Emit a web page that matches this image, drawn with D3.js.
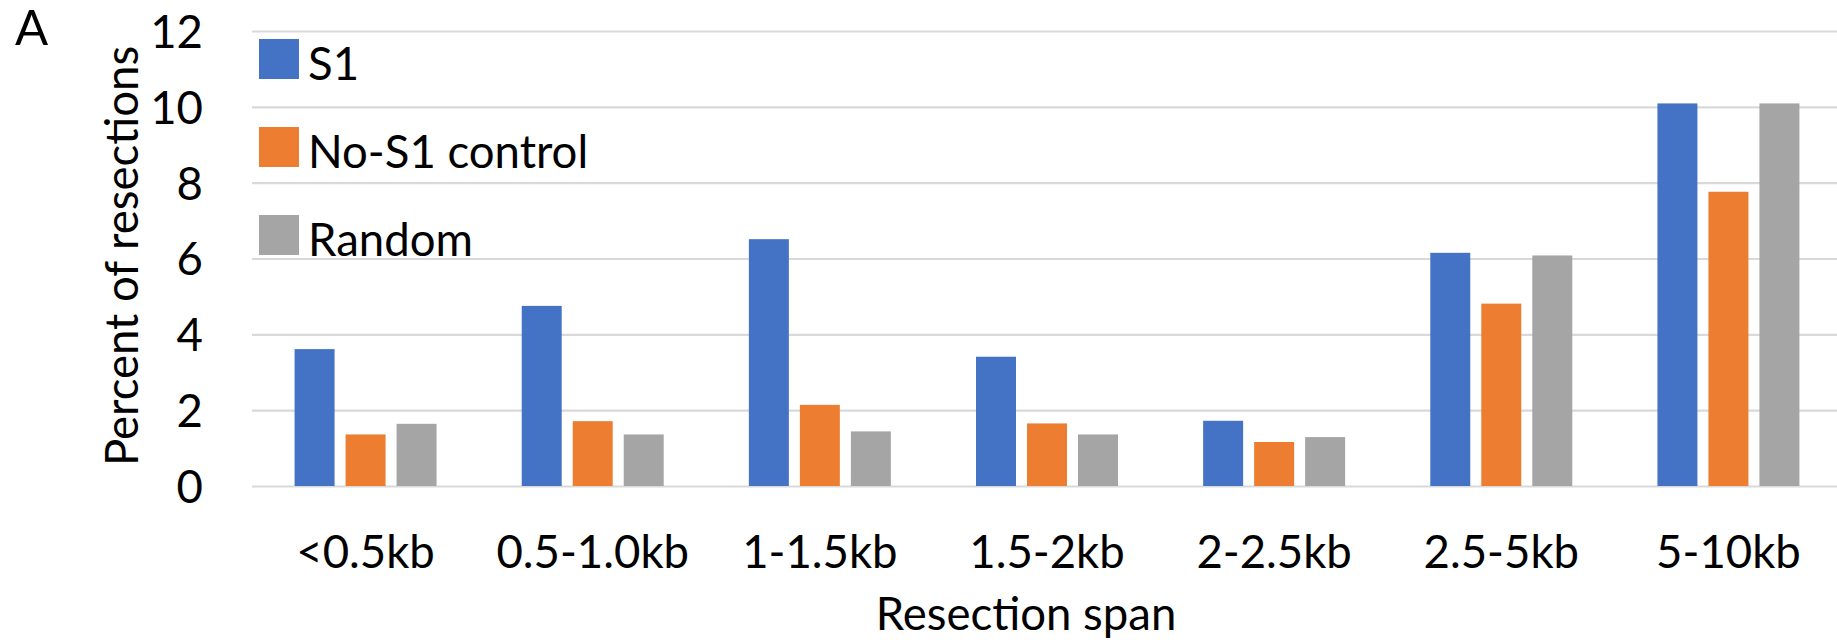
<!DOCTYPE html>
<html>
<head>
<meta charset="utf-8">
<script src="https://cdn.jsdelivr.net/npm/d3@7"></script>
<style>
	html, body { margin: 0; padding: 0; background: #fff; }
	svg { display: block; font-family: 'Lato', sans-serif; }
</style>
</head>
<body>
<div id="chart"></div>
<script>
const categories = ['<0.5kb', '0.5-1.0kb', '1-1.5kb', '1.5-2kb', '2-2.5kb', '2.5-5kb', '5-10kb'];
const seriesNames = ['S1', 'No-S1 control', 'Random'];
const s1Values = [3.61, 4.75, 6.51, 3.41, 1.72, 6.15, 10.09];
const noS1Values = [1.36, 1.71, 2.14, 1.65, 1.16, 4.81, 7.76];
const randomValues = [1.64, 1.36, 1.44, 1.36, 1.29, 6.08, 10.09];
const yTicks = [0, 2, 4, 6, 8, 10, 12];
const colors = ['#4472c4', '#ed7d31', '#a5a5a5'];

const W = 1837;
const H = 644;
const fontSize = 45.5;

const svg = d3.select('#chart').append('svg').attr('width', W).attr('height', H);

const margin = { top: 31, left: 252 };
const plotW = 1590;
const plotH = 455;

const g = svg.append('g').attr('transform', `translate(${margin.left},${margin.top})`);

const table = categories.map((c, i) => ({
	cat: c,
	vals: [s1Values[i], noS1Values[i], randomValues[i]]
}));

const x0 = d3.scaleBand().domain(categories).range([0, plotW]);
const x1 = d3
	.scaleBand()
	.domain(seriesNames)
	.range([0, x0.bandwidth()])
	.paddingInner(0.216)
	.paddingOuter(0.835);
const y = d3.scaleLinear().domain([0, 12]).range([plotH, 0]);
const color = d3.scaleOrdinal().domain(seriesNames).range(colors);

// y axis with gridlines
const yAxis = g
	.append('g')
	.call(d3.axisLeft(y).tickValues(yTicks).tickSize(-plotW).tickPadding(49));
yAxis.select('.domain').remove();
yAxis.selectAll('line').attr('stroke', '#d9d9d9').attr('stroke-width', 2.2);
yAxis
	.selectAll('text')
	.attr('font-family', 'Lato, sans-serif')
	.attr('font-size', fontSize)
	.attr('fill', '#000')
	.attr('dy', '0.36em');

// x axis labels
const xAxis = g
	.append('g')
	.attr('transform', `translate(0,${plotH})`)
	.call(d3.axisBottom(x0).tickSize(0).tickPadding(50));
xAxis.select('.domain').remove();
xAxis
	.selectAll('text')
	.attr('font-family', 'Lato, sans-serif')
	.attr('font-size', fontSize)
	.attr('fill', '#000');

// bars
g.selectAll('.group')
	.data(table)
	.enter()
	.append('g')
	.attr('class', 'group')
	.attr('transform', (d) => `translate(${x0(d.cat)},0)`)
	.selectAll('rect')
	.data((d) => d.vals.map((v, i) => ({ key: seriesNames[i], value: v })))
	.enter()
	.append('rect')
	.attr('x', (d) => x1(d.key))
	.attr('y', (d) => y(d.value))
	.attr('width', x1.bandwidth())
	.attr('height', (d) => plotH - y(d.value))
	.attr('fill', (d) => color(d.key));

// legend
const legend = svg.append('g').attr('transform', 'translate(259,39)');
const legendItems = legend
	.selectAll('.legend-item')
	.data(seriesNames)
	.enter()
	.append('g')
	.attr('class', 'legend-item')
	.attr('transform', (d, i) => `translate(0,${i * 88})`);

legendItems
	.append('rect')
	.attr('width', 40)
	.attr('height', 40)
	.attr('fill', (d) => color(d));

legendItems
	.append('text')
	.attr('x', 49)
	.attr('y', 41)
	.attr('font-size', fontSize)
	.attr('fill', '#000')
	.text((d) => d);

// axis titles
svg.append('text')
	.attr('x', 1026)
	.attr('y', 630)
	.attr('text-anchor', 'middle')
	.attr('font-size', fontSize)
	.attr('fill', '#000')
	.text('Resection span');

svg.append('text')
	.attr('transform', 'translate(138,256) rotate(-90)')
	.attr('text-anchor', 'middle')
	.attr('font-size', fontSize)
	.attr('fill', '#000')
	.text('Percent of resections');

// panel letter
svg.append('text')
	.attr('x', 15)
	.attr('y', 45)
	.attr('font-size', 49)
	.attr('fill', '#000')
	.text('A');
</script>
</body>
</html>
